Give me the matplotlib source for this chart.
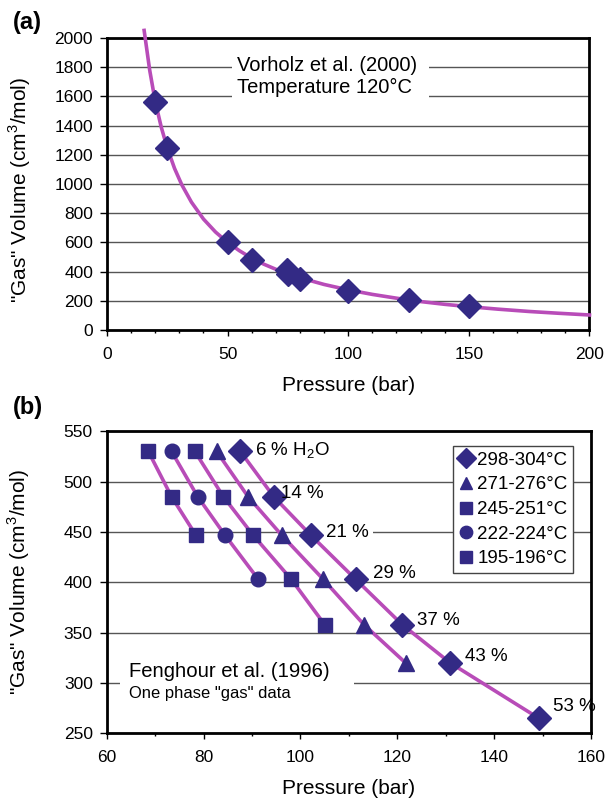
import matplotlib
matplotlib.use("Agg")
import matplotlib.pyplot as plt
from matplotlib.ticker import MultipleLocator
from matplotlib.patches import Rectangle

plt.rcParams['font.family'] = ['Liberation Sans', 'DejaVu Sans']
plt.rcParams['mathtext.fontset'] = 'custom'
plt.rcParams['mathtext.rm'] = 'Liberation Sans'

# ---------------- Panel (a) data ----------------
a_pressure = [20, 25, 50, 60, 74.5, 75, 80, 100, 125, 150]
a_volume = [1565, 1246, 600, 483, 408, 385, 350, 270, 205, 165]
a_curve_p = [15.4, 17.7, 20, 22.5, 25, 28, 31, 35, 40, 45, 50, 55, 60, 65, 70, 75, 80, 90,
             100, 110, 120, 130, 140, 150, 162, 175, 187, 200]
a_curve_v = [2052, 1780, 1565, 1389, 1246, 1107, 995, 876, 760, 671, 600, 542, 492, 451, 416, 385,
             358, 312, 275, 244, 218, 195, 176, 160, 143, 127, 115, 103]

# ---------------- Panel (b) data ----------------
b_labels = ["298-304°C", "271-276°C", "245-251°C", "222-224°C", "195-196°C"]
b_markers = ["D", "^", "s", "o", "s"]
b_pressure = [
    [87.6, 94.5, 102.1, 111.4, 121.0, 130.9, 149.2],
    [82.7, 89.2, 96.1, 104.7, 113.1, 121.7],
    [78.2, 84.1, 90.2, 98.1, 105.0],
    [73.4, 78.8, 84.4, 91.3],
    [68.6, 73.4, 78.4],
]
b_volume = [
    [530, 485, 447, 403, 358, 320, 265],
    [530, 485, 447, 403, 358, 320],
    [530, 485, 447, 403, 358],
    [530, 485, 447, 403],
    [530, 485, 447],
]
water_labels = ["6 % H$_2$O", "14 %", "21 %", "29 %", "37 %", "43 %", "53 %"]

mcol = '#332a85'
lcol = '#b84cb8'
gridcol = '#555555'

fig = plt.figure(figsize=(6.11, 8.02), dpi=100)
ax1 = fig.add_axes([0.1751, 0.5885, 0.7897, 0.3641])
ax2 = fig.add_axes([0.1746, 0.0857, 0.7927, 0.3765])

for ax in (ax1, ax2):
    for s in ax.spines.values():
        s.set_linewidth(2.0)
        s.set_color('black')
    ax.yaxis.grid(True, color=gridcol, linewidth=1.0)
    ax.set_axisbelow(True)
    ax.tick_params(axis='y', which='major', direction='out', length=5, width=1, pad=5, labelsize=12.5)
    ax.tick_params(axis='x', which='major', direction='out', length=4, width=1, pad=8, labelsize=12.5)
    ax.tick_params(axis='x', which='minor', direction='out', length=2.5, width=1)

marker_sizes = {'D': 12.5, '^': 11, 's': 10.5, 'o': 10.5}

# Panel (a)
ax1.plot(a_curve_p, a_curve_v, color=lcol, lw=2.6, zorder=3, clip_on=False)
ax1.plot(a_pressure, a_volume, linestyle='none', marker='D', ms=marker_sizes['D'], color=mcol, zorder=4)
ax1.set_xlim(0, 200)
ax1.set_ylim(0, 2000)
ax1.xaxis.set_major_locator(MultipleLocator(50))
ax1.xaxis.set_minor_locator(MultipleLocator(10))
ax1.yaxis.set_major_locator(MultipleLocator(200))
ax1.set_xlabel("Pressure (bar)", fontsize=15, labelpad=10)
ax1.set_ylabel('"Gas" Volume (cm$^3$/mol)', fontsize=15)
ax1.yaxis.set_label_coords(-0.154, 0.48)
ax1.add_patch(Rectangle((52.0, 1560), 81.6, 320, facecolor='white', edgecolor='none', zorder=1))
ax1.text(53.7, 1736, "Vorholz et al. (2000)\nTemperature 120°C", fontsize=14.5, va='center', ha='left',
         linespacing=1.25, zorder=5)
fig.text(0.021, 0.972, "(a)", fontsize=17, fontweight='bold', va='center', ha='left')

# Panel (b)
for p, v in zip(b_pressure, b_volume):
    ax2.plot(p, v, color=lcol, lw=2.6, zorder=3)
for p, v, m, lab in zip(b_pressure, b_volume, b_markers, b_labels):
    ax2.plot(p, v, linestyle='none', marker=m, ms=marker_sizes[m], color=mcol, zorder=4, label=lab)

label_offsets = [(3.0, 1), (1.5, 3), (3.1, 2), (3.6, 6), (3.1, 4), (3.1, 6), (3.0, 12)]
for (dx, dy), p, v, t in zip(label_offsets, b_pressure[0], b_volume[0], water_labels):
    ax2.text(p + dx, v + dy, t, fontsize=13.5, va='center', ha='left', zorder=5)
ax2.add_patch(Rectangle((104.0, 446), 11.0, 8, facecolor='white', edgecolor='none', zorder=1))

ax2.set_xlim(60, 160)
ax2.set_ylim(250, 550)
ax2.xaxis.set_major_locator(MultipleLocator(20))
ax2.xaxis.set_minor_locator(MultipleLocator(10))
ax2.yaxis.set_major_locator(MultipleLocator(50))
ax2.set_xlabel("Pressure (bar)", fontsize=15, labelpad=10)
ax2.set_ylabel('"Gas" Volume (cm$^3$/mol)', fontsize=15)
ax2.yaxis.set_label_coords(-0.154, 0.5)
ax2.add_patch(Rectangle((62.7, 295), 48.3, 10, facecolor='white', edgecolor='none', zorder=1))
ax2.text(64.6, 311, "Fenghour et al. (1996)", fontsize=14.6, va='center', ha='left', zorder=5)
ax2.text(64.6, 289.5, 'One phase "gas" data', fontsize=11.9, va='center', ha='left', zorder=6)
fig.text(0.021, 0.492, "(b)", fontsize=17, fontweight='bold', va='center', ha='left')

leg = ax2.legend(loc='upper right', bbox_to_anchor=(0.963, 0.951), fontsize=13.5, frameon=True,
                 fancybox=False, framealpha=1, edgecolor='#444444', handlelength=0.8,
                 handletextpad=0.2, borderpad=0.3, labelspacing=0.4, borderaxespad=0,
                 markerscale=0.85)
leg.get_frame().set_linewidth(1.0)
leg.set_zorder(10)

fig.savefig("out.png", dpi=100)
